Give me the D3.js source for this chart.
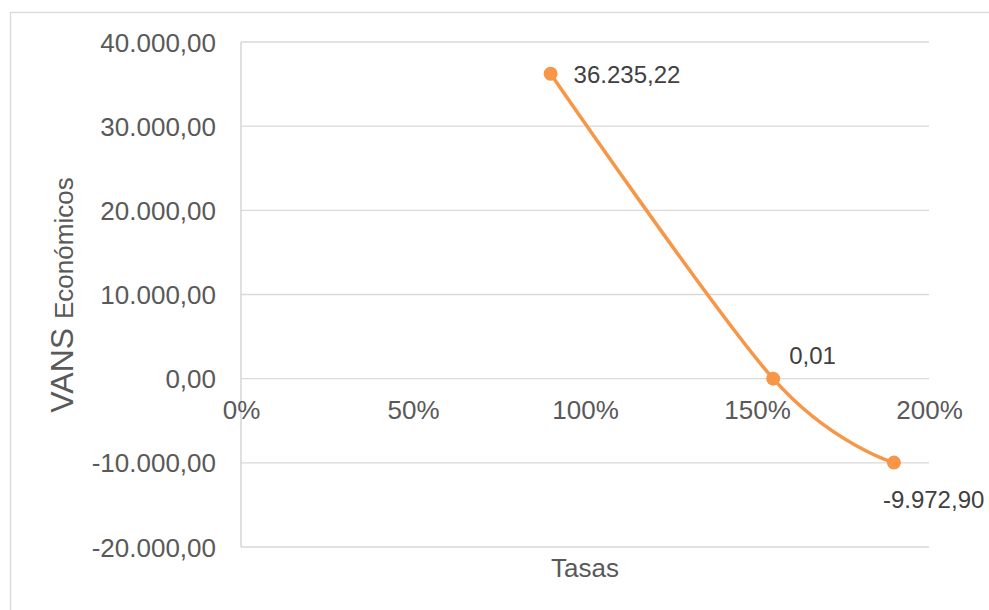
<!DOCTYPE html>
<meta charset="utf-8">
<head>
	<script src="https://d3js.org/d3.v7.min.js"></script>
	<style>
		body {
			margin: 0;
			background: #fff;
			font-family: "Liberation Sans", Arial, sans-serif;
		}
		.grid line {
			stroke: #d9d9d9;
			stroke-width: 1.3;
		}
		.axis text {
			fill: #595959;
			font-size: 26px;
		}
		.lbl {
			fill: #404040;
			font-size: 24px;
		}
	</style>
</head>

<body>
	<div id="chart"></div>
</body>

<script type="text/javascript">

	// tasas (x) and VAN economico (y)
	var tasas = [0.90, 1.547, 1.898];
	var vans = [36235.22, 0.01, -9972.90];
	var labels = ["36.235,22", "0,01", "-9.972,90"];
	var xTicks = [0, 0.5, 1, 1.5, 2];
	var yTicks = [40000, 30000, 20000, 10000, 0, -10000, -20000];

	var W = 989, H = 610;
	var plotLeft = 241, plotRight = 929, plotTop = 42, plotBottom = 547;

	var svg = d3.select("#chart").append("svg")
		.attr("width", W)
		.attr("height", H);

	// chart border
	svg.append("rect")
		.attr("x", 10.5)
		.attr("y", 12.5)
		.attr("width", W + 20)
		.attr("height", H + 20)
		.style("fill", "none")
		.style("stroke", "#d9d9d9")
		.style("stroke-width", 1.3);

	var x = d3.scaleLinear().domain([0, 2]).range([plotLeft, plotRight]);
	var y = d3.scaleLinear().domain([-20000, 40000]).range([plotBottom, plotTop]);

	var fmtNum = function(v) {
		var s = d3.format(",.2f")(v);
		return s.replace(/,/g, "#").replace(".", ",").replace(/#/g, ".").replace("−", "-");
	};

	// horizontal gridlines
	svg.append("g")
		.attr("class", "grid")
		.selectAll("line")
		.data(yTicks)
		.enter().append("line")
		.attr("x1", plotLeft)
		.attr("x2", plotRight)
		.attr("y1", function(d) { return y(d); })
		.attr("y2", function(d) { return y(d); });

	// vertical axis line
	svg.append("line")
		.attr("x1", plotLeft).attr("x2", plotLeft)
		.attr("y1", plotTop).attr("y2", plotBottom)
		.style("stroke", "#d0d0d0")
		.style("stroke-width", 1.3);

	var yAxis = d3.axisLeft(y)
		.tickValues(yTicks)
		.tickSize(0)
		.tickPadding(25)
		.tickFormat(fmtNum);

	var ya = svg.append("g")
		.attr("class", "axis")
		.attr("transform", "translate(" + plotLeft + ",0)")
		.call(yAxis);
	ya.select(".domain").remove();
	ya.selectAll("text").attr("dy", "0.35em");

	// x axis crosses at 0
	var xAxis = d3.axisBottom(x)
		.tickValues(xTicks)
		.tickSize(0)
		.tickPadding(22)
		.tickFormat(d3.format(".0%"));

	var xa = svg.append("g")
		.attr("class", "axis")
		.attr("transform", "translate(0," + y(0) + ")")
		.call(xAxis);
	xa.select(".domain").remove();
	xa.selectAll("text").attr("dy", "0.71em");

	// axis titles
	svg.append("text")
		.attr("x", (plotLeft + plotRight) / 2)
		.attr("y", 577)
		.style("text-anchor", "middle")
		.style("font-size", "26px")
		.style("fill", "#595959")
		.text("Tasas");

	var yt = svg.append("text")
		.attr("transform", "translate(73,295)rotate(-90)")
		.style("text-anchor", "middle")
		.style("fill", "#595959");
	yt.append("tspan").style("font-size", "32px").text("VANS ");
	yt.append("tspan").style("font-size", "26px").text("Económicos");

	// series
	var pts = tasas.map(function(t, i) { return [x(t), y(vans[i])]; });

	svg.append("path")
		.datum(pts)
		.attr("d", d3.line().curve(d3.curveCatmullRom.alpha(0)))
		.style("fill", "none")
		.style("stroke", "#F79646")
		.style("stroke-width", 3.5)
		.style("stroke-linecap", "round");

	svg.append("g")
		.selectAll("circle")
		.data(pts)
		.enter().append("circle")
		.attr("cx", function(d) { return d[0]; })
		.attr("cy", function(d) { return d[1]; })
		.attr("r", 7)
		.style("fill", "#F79646");

	// data labels
	svg.append("g")
		.selectAll("text")
		.data(pts)
		.enter().append("text")
		.attr("class", "lbl")
		.attr("x", function(d, i) { return d[0] + [23, 16, -11][i]; })
		.attr("y", function(d, i) { return d[1] + [9, -15, 45][i]; })
		.text(function(d, i) { return labels[i]; });
</script>
